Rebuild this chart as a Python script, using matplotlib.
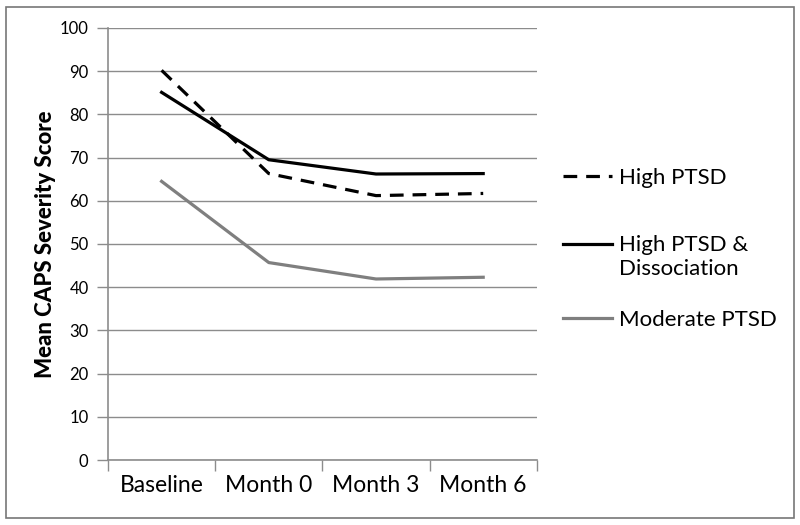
import matplotlib
matplotlib.use("Agg")
import numpy as np
import matplotlib.pyplot as plt
from matplotlib.patches import Rectangle
from matplotlib.ticker import FixedLocator
from matplotlib.legend_handler import HandlerLine2D

categories = ["Baseline", "Month 0", "Month 3", "Month 6"]
high_ptsd = [90.2, 66.3, 61.2, 61.7]
high_ptsd_dissoc = [85.1, 69.5, 66.2, 66.3]
moderate_ptsd = [64.5, 45.7, 41.9, 42.3]
series_labels = ["High PTSD", "High PTSD &\nDissociation", "Moderate PTSD"]
yticks = list(range(0, 101, 10))

plt.rcParams['font.family'] = ['Lato', 'DejaVu Sans']


class UpHandler(HandlerLine2D):
    def create_artists(self, legend, orig_handle, xdescent, ydescent, width,
                       height, fontsize, trans):
        arts = super().create_artists(legend, orig_handle, xdescent, ydescent,
                                      width, height, fontsize, trans)
        for a in arts:
            a.set_ydata(np.asarray(a.get_ydata(), dtype=float) + fontsize * 0.6)
        return arts


fig = plt.figure(figsize=(8, 5.25), dpi=100)
ax = fig.add_axes([0.135, 0.1238, 0.536, 0.8229])

x = list(range(len(categories)))
lw = 2.3
l1, = ax.plot(x, high_ptsd, color='black', lw=lw, ls=(0, (4.3, 2.8)),
              dash_capstyle='butt', zorder=3)
l2, = ax.plot(x, high_ptsd_dissoc, color='black', lw=lw, zorder=3)
l3, = ax.plot(x, moderate_ptsd, color='#7f7f7f', lw=lw, zorder=3)

ax.set_xlim(-0.5, len(categories) - 0.5)
ax.set_ylim(0, 100)
ax.set_yticks(yticks)
ax.set_yticklabels([str(v) for v in yticks], fontsize=12)
ax.yaxis.grid(True, color='#8c8c8c', lw=1.0)
ax.set_axisbelow(True)

ax.set_xticks(x)
ax.set_xticklabels(categories, fontsize=16.5)
ax.tick_params(axis='x', which='major', length=0, pad=11)
ax.xaxis.set_minor_locator(FixedLocator([i - 0.5 for i in range(len(categories) + 1)]))
ax.tick_params(axis='x', which='minor', length=8, color='#8c8c8c', width=1)
ax.tick_params(axis='y', length=8, color='#8c8c8c', width=1, pad=6)

for s in ['top', 'right']:
    ax.spines[s].set_visible(False)
for s in ['left', 'bottom']:
    ax.spines[s].set_color('#8c8c8c')
    ax.spines[s].set_linewidth(1.2)

ax.set_ylabel("Mean CAPS Severity Score", fontsize=16, fontweight='black', labelpad=3)

leg_y = [1 - 178 / 525, 1 - 257 / 525, 1 - 320 / 525]
handles = [l1, l2, l3]
for i, (h, lab, yy) in enumerate(zip(handles, series_labels, leg_y)):
    kw = {}
    if i == 1:
        kw['handler_map'] = {h: UpHandler()}
    lg = fig.legend([h], [lab], loc='center left', bbox_to_anchor=(563 / 800, yy),
                    frameon=False, fontsize=16, handlelength=2.2, handletextpad=0.33,
                    borderpad=0, borderaxespad=0, **kw)

fig.add_artist(Rectangle((0.008, 0.013), 0.984, 0.974, transform=fig.transFigure,
                         fill=False, edgecolor='#777777', lw=1.2))

fig.savefig("out.png", dpi=100)
